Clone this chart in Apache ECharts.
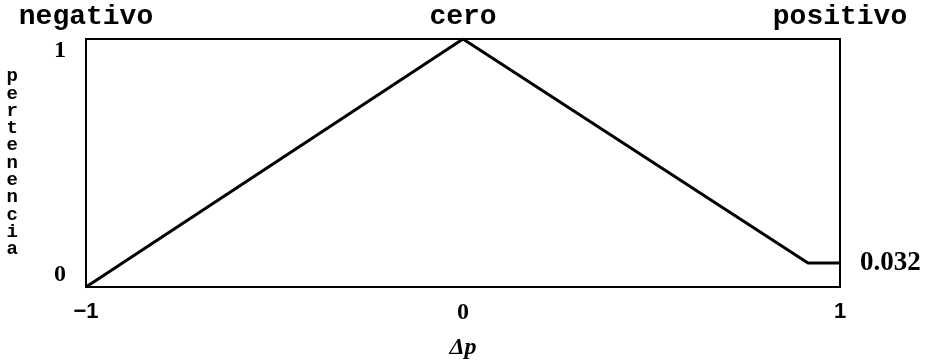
<!DOCTYPE html>
<html>
<head>
<meta charset="utf-8">
<script src="https://cdn.jsdelivr.net/npm/echarts@6/dist/echarts.min.js"></script>
<style>
  html, body { margin: 0; padding: 0; background: #fff; }
  #chart { width: 933px; height: 362px; }
</style>
</head>
<body>
<div id="chart"></div>
<script>
  // datos
  var xs = [-1, 0, 0.915, 1]
  var ys = [0, 1, 0.097, 0.097]
  var tickValues = [-1, 0, 1]
  var bottomLabels = ['\u22121', '0', '1']
  var topLabels = ['negativo', 'cero', 'positivo']
  var yLabels = ['0', '1']
  var yName = 'pertenencia'
  var xName = '\u0394p'
  var endText = '0.032'

  var points = xs.map(function (x, i) { return [x, ys[i]] })

  function pick(arr, v) {
    var i = tickValues.indexOf(v)
    return i < 0 ? '' : arr[i]
  }

  var chart = echarts.init(document.getElementById('chart'))
  chart.setOption({
    animation: false,
    backgroundColor: '#fff',
    grid: {
      left: 86, right: 93, top: 39, bottom: 75,
      outerBoundsMode: 'none', containLabel: false,
      show: true, borderColor: '#000', borderWidth: 2
    },
    xAxis: [{
      type: 'value', min: -1, max: 1, interval: 1,
      axisLine: { show: false }, axisTick: { show: false }, splitLine: { show: false },
      name: xName, nameLocation: 'middle', nameGap: 49,
      nameTextStyle: { fontFamily: 'Liberation Serif', fontStyle: 'italic', fontWeight: 'bold', fontSize: 24, color: '#000' },
      axisLabel: {
        margin: 14, color: '#000',
        formatter: function (v) {
          var t = pick(bottomLabels, v)
          return v === 0 ? '{s|' + t + '}' : '{a|' + t + '}'
        },
        rich: {
          a: { fontFamily: 'Liberation Sans', fontWeight: 'bold', fontSize: 22, color: '#000' },
          s: { fontFamily: 'Liberation Serif', fontWeight: 'bold', fontSize: 24, color: '#000' }
        }
      }
    }, {
      type: 'value', position: 'top', min: -1, max: 1, interval: 1,
      axisLine: { show: false }, axisTick: { show: false }, splitLine: { show: false },
      axisLabel: {
        margin: 8, color: '#000',
        fontFamily: 'Liberation Mono', fontWeight: 'bold', fontSize: 28,
        formatter: function (v) { return pick(topLabels, v) }
      }
    }],
    yAxis: {
      type: 'value', min: 0, max: 1, interval: 1,
      axisLine: { show: false }, axisTick: { show: false }, splitLine: { show: false },
      name: yName.split('').join('\n'), nameLocation: 'middle', nameRotate: 0, nameGap: 68,
      nameTextStyle: { fontFamily: 'Liberation Mono', fontWeight: 'bold', fontSize: 19, lineHeight: 17.3, color: '#000' },
      axisLabel: {
        margin: 20, color: '#000',
        fontFamily: 'Liberation Serif', fontWeight: 'bold', fontSize: 24,
        verticalAlignMinLabel: 'bottom', verticalAlignMaxLabel: 'top',
        formatter: function (v) { return yLabels[v] }
      }
    },
    series: [{
      type: 'line',
      data: points,
      symbol: 'none',
      lineStyle: { color: '#000', width: 3 },
      endLabel: {
        show: true, distance: 20, color: '#000',
        fontFamily: 'Liberation Serif', fontWeight: 'bold', fontSize: 27,
        formatter: function () { return endText }
      }
    }]
  })
</script>
</body>
</html>
